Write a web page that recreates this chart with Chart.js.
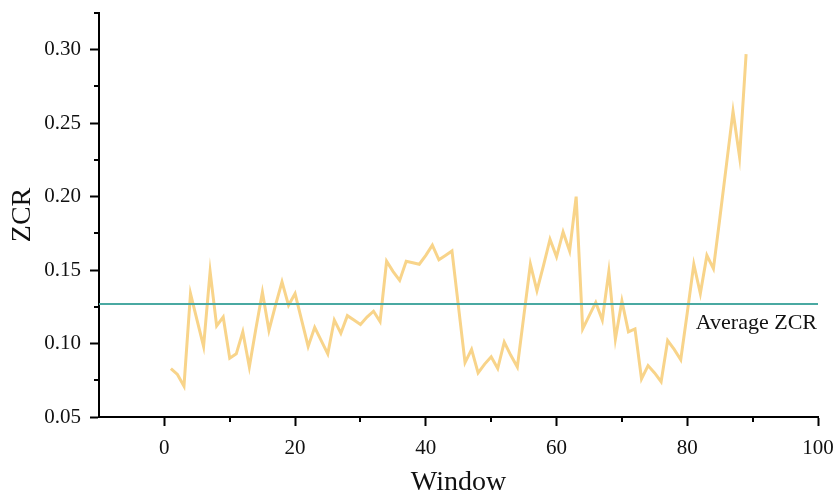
<!DOCTYPE html>
<html>
<head>
<meta charset="utf-8">
<script src="https://cdn.jsdelivr.net/npm/chart.js@4/dist/chart.umd.min.js"></script>
<style>
  html, body { margin: 0; padding: 0; background: #fff; }
  #wrap { width: 837px; height: 497px; }
</style>
</head>
<body>
<div id="wrap"><canvas id="zcrChart"></canvas></div>
<script>
// Window index and zero crossing rate
const windows = [1, 2, 3, 4, 5, 6, 7, 8, 9, 10, 11, 12, 13, 14, 15, 16, 17, 18, 19, 20,
    21, 22, 23, 24, 25, 26, 27, 28, 29, 30, 31, 32, 33, 34, 35, 36, 37, 38, 39, 40,
    41, 42, 43, 44, 45, 46, 47, 48, 49, 50, 51, 52, 53, 54, 55, 56, 57, 58, 59, 60,
    61, 62, 63, 64, 65, 66, 67, 68, 69, 70, 71, 72, 73, 74, 75, 76, 77, 78, 79, 80,
    81, 82, 83, 84, 85, 86, 87, 88, 89];
const zcr = [0.083, 0.079, 0.071, 0.134, 0.116, 0.098, 0.149, 0.112, 0.118, 0.090,
    0.093, 0.108, 0.084, 0.110, 0.135, 0.109, 0.126, 0.142, 0.126, 0.134,
    0.116, 0.098, 0.111, 0.102, 0.093, 0.116, 0.107, 0.119, 0.116, 0.113,
    0.118, 0.122, 0.115, 0.156, 0.149, 0.143, 0.156, 0.155, 0.154, 0.160,
    0.167, 0.157, 0.160, 0.163, 0.125, 0.087, 0.096, 0.080, 0.086, 0.091,
    0.083, 0.101, 0.092, 0.084, 0.119, 0.154, 0.136, 0.153, 0.171, 0.159,
    0.176, 0.163, 0.200, 0.110, 0.119, 0.128, 0.116, 0.149, 0.103, 0.129,
    0.108, 0.110, 0.076, 0.085, 0.080, 0.074, 0.102, 0.096, 0.089, 0.121,
    0.154, 0.134, 0.160, 0.151, 0.186, 0.222, 0.258, 0.227, 0.297];
const averageZcr = 0.127;

const xRange = [-10, 100];
const yRange = [0.05, 0.325];
const xTicks = [0, 20, 40, 60, 80, 100];
const xMinorTicks = [10, 30, 50, 70, 90];
const yTicks = [0.05, 0.10, 0.15, 0.20, 0.25, 0.30];
const yMinorTicks = [0.075, 0.125, 0.175, 0.225, 0.275, 0.325];

const serif = '"Liberation Serif", "Times New Roman", serif';

// short minor ticks and the label of the average line
const extras = {
    id: 'extras',
    afterDraw(chart) {
        const ctx = chart.ctx;
        const xs = chart.scales.x;
        const ys = chart.scales.y;
        const area = chart.chartArea;
        ctx.save();
        ctx.strokeStyle = '#000';
        ctx.lineWidth = 2;
        ctx.beginPath();
        xMinorTicks.forEach(v => {
            const px = Math.round(xs.getPixelForValue(v));
            ctx.moveTo(px, area.bottom);
            ctx.lineTo(px, area.bottom + 5);
        });
        yMinorTicks.forEach(v => {
            const py = Math.round(ys.getPixelForValue(v));
            ctx.moveTo(area.left, py);
            ctx.lineTo(area.left - 5, py);
        });
        ctx.stroke();

        ctx.fillStyle = '#111';
        ctx.font = '22px ' + serif;
        ctx.textAlign = 'right';
        ctx.textBaseline = 'middle';
        ctx.fillText('Average ZCR', xs.getPixelForValue(100) - 1, ys.getPixelForValue(averageZcr) + 19);
        ctx.restore();
    }
};

const zcrChart = new Chart(document.getElementById('zcrChart'), {
    type: 'line',
    data: {
        datasets: [{
            label: 'Average ZCR',
            data: [{x: xRange[0], y: averageZcr}, {x: xRange[1], y: averageZcr}],
            borderColor: '#4aa9a2',
            borderWidth: 2,
            pointRadius: 0,
            order: 0
        }, {
            label: 'ZCR',
            data: windows.map((w, i) => ({x: w, y: zcr[i]})),
            borderColor: '#f8d48a',
            borderWidth: 3,
            borderJoinStyle: 'miter',
            tension: 0,
            pointRadius: 0,
            order: 1
        }]
    },
    options: {
        responsive: true,
        maintainAspectRatio: false,
        animation: false,
        layout: {
            padding: {left: 0, top: 13, right: 19, bottom: 0}
        },
        plugins: {
            legend: {display: false},
            tooltip: {enabled: false}
        },
        scales: {
            x: {
                type: 'linear',
                min: xRange[0],
                max: xRange[1],
                afterBuildTicks: function(scale) {
                    scale.ticks = xTicks.map(v => ({value: v}));
                },
                afterFit: function(scale) {
                    scale.height = 80;
                    scale.paddingLeft = 0;
                    scale.paddingRight = 0;
                },
                grid: {
                    drawOnChartArea: false,
                    color: '#000',
                    tickLength: 9,
                    tickWidth: 2
                },
                border: {color: '#000', width: 2},
                ticks: {
                    color: '#111',
                    padding: 10,
                    maxRotation: 0,
                    font: {family: serif, size: 21}
                },
                title: {
                    display: true,
                    text: 'Window',
                    color: '#111',
                    padding: {top: 0, bottom: 0},
                    font: {family: serif, size: 28, lineHeight: 1}
                }
            },
            y: {
                type: 'linear',
                min: yRange[0],
                max: yRange[1],
                afterBuildTicks: function(scale) {
                    scale.ticks = yTicks.map(v => ({value: v}));
                },
                afterFit: function(scale) {
                    scale.width = 99;
                    scale.paddingTop = 0;
                    scale.paddingBottom = 0;
                },
                grid: {
                    drawOnChartArea: false,
                    color: '#000',
                    tickLength: 9,
                    tickWidth: 2
                },
                border: {color: '#000', width: 2},
                ticks: {
                    color: '#111',
                    padding: 9,
                    font: {family: serif, size: 21},
                    callback: function(value) {
                        return value.toFixed(2);
                    }
                },
                title: {
                    display: true,
                    text: 'ZCR',
                    color: '#111',
                    padding: {top: 9, bottom: 0},
                    font: {family: serif, size: 28, lineHeight: 1}
                }
            }
        }
    },
    plugins: [extras]
});
</script>
</body>
</html>
